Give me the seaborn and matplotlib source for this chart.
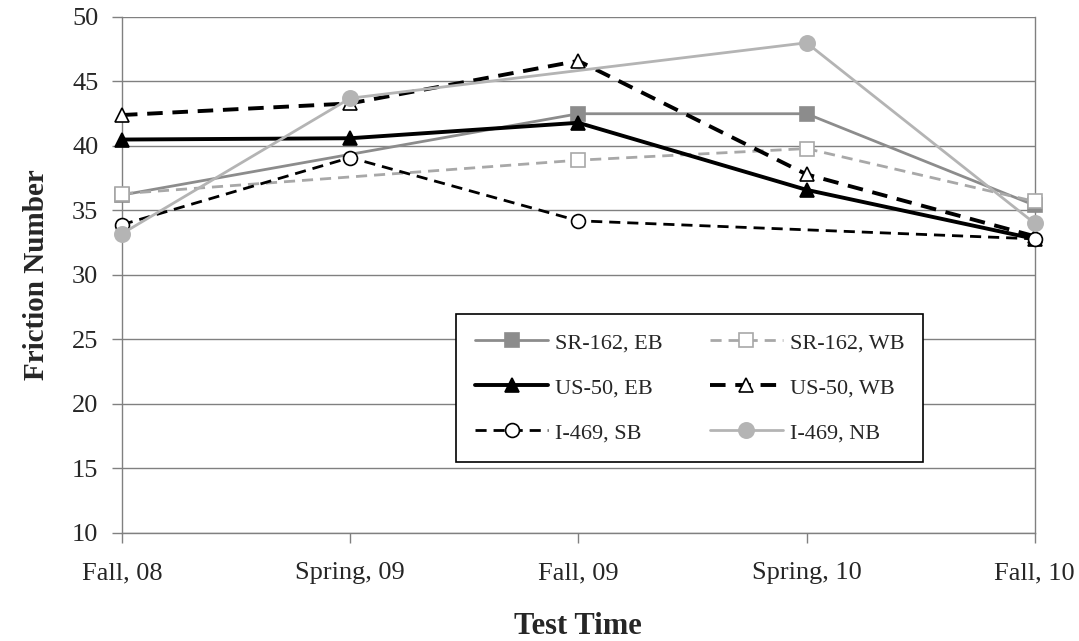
import numpy as np
import pandas as pd
import seaborn as sns
import matplotlib.pyplot as plt

# Test times and friction numbers (NaN = no reading)
test_times = ['Fall, 08', 'Spring, 09', 'Fall, 09', 'Spring, 10', 'Fall, 10']
sr162_eb = [36.2, np.nan, 42.5, 42.5, 35.4]
sr162_wb = [36.3, np.nan, 38.9, 39.8, 35.7]
us50_eb = [40.5, 40.6, 41.8, 36.6, 32.8]
us50_wb = [42.4, 43.3, 46.6, 37.8, 33.0]
i469_sb = [33.9, 39.1, 34.2, np.nan, 32.8]
i469_nb = [33.2, 43.7, np.nan, 48.0, 34.0]

series = {
    'SR-162, EB': sr162_eb,
    'SR-162, WB': sr162_wb,
    'US-50, EB': us50_eb,
    'US-50, WB': us50_wb,
    'I-469, SB': i469_sb,
    'I-469, NB': i469_nb,
}

styles = {
    'SR-162, EB': dict(color='#8c8c8c', linestyle='-', marker='s', lw=2.0, mfc='#8c8c8c', ms=10),
    'SR-162, WB': dict(color='#a8a8a8', linestyle=(0, (4, 2.5)), marker='s', lw=2.0, mfc='white', ms=10),
    'US-50, EB': dict(color='black', linestyle='-', marker='^', lw=2.8, mfc='black', ms=10),
    'US-50, WB': dict(color='black', linestyle=(0, (4, 2.5)), marker='^', lw=2.8, mfc='white', ms=10),
    'I-469, SB': dict(color='black', linestyle=(0, (4, 2.5)), marker='o', lw=2.0, mfc='white', ms=10),
    'I-469, NB': dict(color='#b4b4b4', linestyle='-', marker='o', lw=2.0, mfc='#b4b4b4', ms=11),
}

sns.set_style('white')
plt.rcParams['font.family'] = ['Liberation Serif', 'DejaVu Serif']

fig = plt.figure(figsize=(10.79, 6.41), dpi=100)
ax = fig.add_axes([0.113, 0.1685, 0.846, 0.805])

pos = np.arange(len(test_times))
lines = {}
for name, vals in series.items():
    df = pd.DataFrame({'pos': pos, 'val': vals}).dropna()
    st = styles[name]
    sns.lineplot(data=df, x='pos', y='val', ax=ax, color=st['color'],
                 linestyle=st['linestyle'], linewidth=st['lw'], marker=st['marker'],
                 markersize=st['ms'], markerfacecolor=st['mfc'],
                 markeredgecolor=st['color'], markeredgewidth=1.2,
                 label=name, legend=False, clip_on=False, zorder=3)
    lines[name] = ax.lines[-1]

ax.set_xlim(0, 4)
ax.set_ylim(10, 50)
ax.set_yticks(range(10, 51, 5))
ax.set_xticks(pos)
ax.set_xticklabels(test_times)
ax.grid(axis='y', color='#808080', lw=1.0)
ax.set_axisbelow(True)

ax.spines['top'].set_visible(False)
for s in ['left', 'right', 'bottom']:
    ax.spines[s].set_color('#808080')
    ax.spines[s].set_linewidth(1.0)

ax.tick_params(axis='both', direction='out', length=7, width=1, color='#808080',
               labelsize=19)
ax.tick_params(axis='y', pad=10)
ax.tick_params(axis='x', pad=14)
ax.tick_params(left=True, bottom=True)

ax.set_xlabel('Test Time', fontsize=22, fontweight='bold', labelpad=20)
ax.set_ylabel('Friction Number', fontsize=21, fontweight='bold', labelpad=16)

order = ['SR-162, EB', 'US-50, EB', 'I-469, SB', 'SR-162, WB', 'US-50, WB', 'I-469, NB']
leg = ax.legend([lines[n] for n in order], order, ncol=2, loc='lower left',
                bbox_to_anchor=(0.354, 0.116, 0.536, 0.326), mode='expand',
                fontsize=16, frameon=True, fancybox=False, framealpha=1,
                edgecolor='black', handlelength=3.3, labelspacing=1.1,
                borderpad=0.85, columnspacing=1.5, handletextpad=0.3)
leg.get_frame().set_linewidth(1.2)
leg.set_zorder(5)

fig.savefig('out.png', dpi=100)
